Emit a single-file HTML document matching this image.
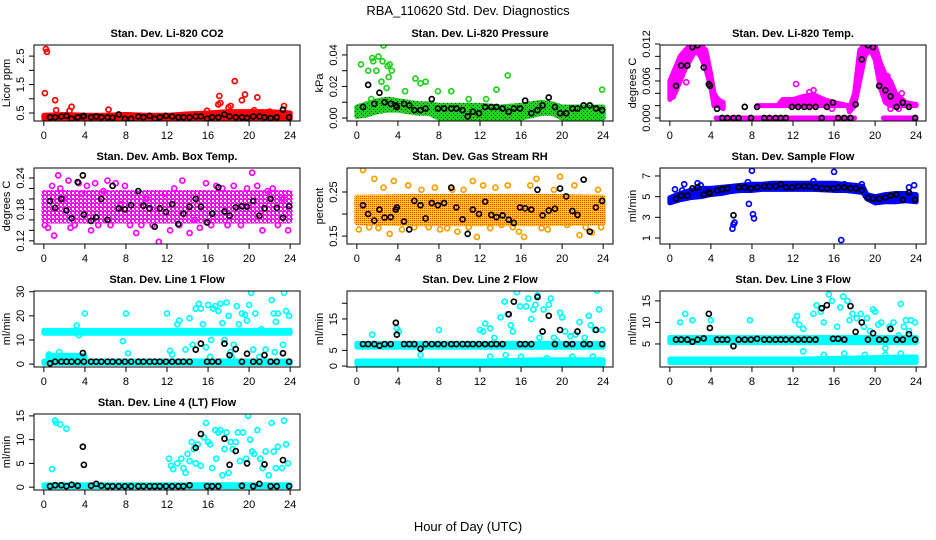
<!DOCTYPE html>
<html><head><meta charset="utf-8">
<style>
html,body{margin:0;padding:0;background:#fff;}
svg{display:block;font-family:"Liberation Sans",Arial,sans-serif;}
</style></head>
<body>
<svg id="chart" width="936" height="540" viewBox="0 0 936 540">
<defs>
<pattern id="pat-green" width="4" height="4" patternUnits="userSpaceOnUse"><rect width="4" height="4" fill="#22d022"/><rect x="1" y="1" width="1" height="1" fill="#000"/><rect x="3" y="3" width="1" height="1" fill="#105010"/></pattern>
<pattern id="pat-magenta" width="4" height="4" patternUnits="userSpaceOnUse"><rect width="4" height="4" fill="#ff00ff"/><rect x="0" y="0" width="2" height="2" fill="#fff"/><rect x="2" y="2" width="1" height="1" fill="#fff"/></pattern>
<pattern id="pat-orange" width="2" height="2" patternUnits="userSpaceOnUse"><rect width="2" height="2" fill="#ffd000"/><rect x="0" y="0" width="1" height="1" fill="#f04000"/></pattern>
</defs>
<text x="468" y="15" text-anchor="middle" font-size="13">RBA_110620  Std. Dev. Diagnostics</text>
<text x="468" y="531" text-anchor="middle" font-size="13">Hour of Day (UTC)</text>
</svg>
<script>
const xTicks=[0,4,8,12,16,20,24];
const blkHours=[0.6,1.1,1.7,2.2,2.7,3.3,3.8,3.9,4.6,5.1,5.6,6.2,6.7,7.3,7.9,8.5,9.2,9.7,10.3,10.8,11.3,11.9,12.5,13.1,13.6,14.2,14.8,15.3,15.9,16.4,17,17.6,18.1,18.7,19.3,19.8,20.4,21,21.5,22.1,22.7,23.3,23.9];

// CO2
const co2BandX=[0,2,4,6,8,10,12,14,16,18,20,22,24];
const co2BandLo=[0.3,0.3,0.3,0.3,0.3,0.3,0.3,0.3,0.3,0.3,0.3,0.3,0.3];
const co2BandHi=[0.42,0.45,0.42,0.42,0.45,0.42,0.42,0.47,0.5,0.55,0.55,0.55,0.5];
const co2PtsX=[0.2,0.3,0.1,1.1,2.7,1.2,2.5,6.3,17.1,17.0,18.6,19.6,19.3,20.8,18.2,18.0,23.4,15.9,20.5,22.0,17.2];
const co2PtsY=[2.75,2.65,1.2,0.95,0.72,0.6,0.58,0.62,1.1,0.8,1.62,1.15,0.95,1.05,0.75,0.7,0.75,0.58,0.6,0.55,0.85];
const co2BlkY=[0.35,0.35,0.38,0.4,0.3,0.35,0.38,0.4,0.35,0.38,0.35,0.35,0.33,0.45,0.3,0.3,0.38,0.35,0.4,0.3,0.35,0.4,0.38,0.35,0.35,0.35,0.38,0.38,0.3,0.35,0.35,0.45,0.38,0.35,0.35,0.33,0.38,0.38,0.35,0.32,0.35,0.62,0.35];

// Pressure
const prBandX=[0,1,2,3,4,5,6,7,8,10,12,14,16,18,19,20,22,24];
const prBandLo=[0.001,0.002,0.004,0.005,0.005,0.004,0.003,0.003,0,0,0,0,0,0.003,0.003,0,0,0];
const prBandHi=[0.007,0.009,0.011,0.012,0.011,0.010,0.009,0.009,0.008,0.008,0.008,0.007,0.008,0.010,0.009,0.007,0.007,0.007];
const prPtsX=[0.4,1.1,1.5,1.6,1.9,2.1,2.4,2.5,2.6,2.9,3.0,3.1,3.2,3.4,4.7,5.7,6.2,6.7,7.9,9.2,13.6,14.7,23.9,1.4,10.9,12.6];
const prPtsY=[0.034,0.03,0.038,0.036,0.03,0.039,0.023,0.036,0.046,0.019,0.033,0.026,0.034,0.03,0.017,0.025,0.022,0.023,0.017,0.017,0.018,0.027,0.018,0.012,0.012,0.012];
const prBlkY=[0.007,0.021,0.009,0.016,0.01,0.009,0.008,0.007,0.009,0.008,0.005,0.005,0.006,0.012,0.006,0.006,0.006,0.006,0.005,0.001,0.004,0.003,0.007,0.007,0.007,0.006,0.004,0.006,0.006,0.011,0.003,0.005,0.008,0.013,0.007,0.003,0.003,0.006,0.006,0.008,0.008,0.006,0.005];

// Li-820 Temp (null splits separate bands)
const tpBandX=[0,0.5,1,1.5,2,2.5,3,3.5,4,4.3,4.7,5.2,null,4.5,18,null,20.8,24,null,8.5,10.5,11,12,13,14,15,16,17.4,null,17.5,18,18.5,19,19.5,20,20.5,21,21.5,22,23,24];
const tpBandLo=[0.003,0.004,0.006,0.008,0.0095,0.011,0.010,0.008,0.005,0.002,0.002,0.0015,null,0,0,null,0,0,null,0.002,0.002,0.002,0.002,0.002,0.002,0.002,0.002,0.002,null,0.001,0.002,0.006,0.010,0.0112,0.0095,0.005,0.0025,0.002,0.002,0.002,0.002];
const tpBandHi=[0.006,0.008,0.010,0.011,0.0118,0.0119,0.0119,0.011,0.007,0.004,0.003,0.0025,null,0,0,null,0,0,null,0.002,0.002,0.003,0.003,0.0035,0.0038,0.003,0.0025,0.002,null,0.0015,0.004,0.011,0.0119,0.0119,0.0118,0.009,0.007,0.006,0.004,0.0025,0.0022];
const tpPtsX=[0.3,1.6,12.3,15.8,17.5,21.5,22.3,13.6,14.0,21.2,22.6];
const tpPtsY=[0.0035,0.0058,0.0055,0.0015,0.0015,0.0015,0.0015,0.0042,0.0045,0.0068,0.004];
const tpBlkY=[0.0052,0.0085,0.0085,0.0115,0.0118,0.0082,0.0055,0.0052,0.0015,0,0,0,0,0.0018,0,0.0018,0,0,0,0,0,0.0018,0.0018,0.0018,0.0018,0.0018,0,0.0018,0.0025,0,0,0,0.0022,0.0095,0.0118,0.0115,0.0052,0.0045,0.0035,0.0018,0.0025,0.0018,0];

// Amb Box Temp
const abBandX=[0,4,8,12,16,20,24];
const abBandLo=[0.158,0.158,0.158,0.158,0.158,0.158,0.158];
const abBandHi=[0.212,0.212,0.212,0.212,0.212,0.212,0.212];
const abPtsX=[0.1,0.4,0.8,1.0,1.4,1.6,1.9,2.4,2.6,3.0,3.4,3.7,4.2,4.6,5.0,5.3,5.8,6.2,6.5,7.0,7.5,7.9,8.4,9.0,9.5,10.0,10.6,11.2,11.8,12.3,12.7,13.2,13.5,14.2,14.7,15.2,15.8,16.3,16.8,17.4,17.9,18.5,19.2,19.8,20.3,20.8,21.3,21.8,22.3,22.8,23.3,23.8];
const abPtsY=[0.15,0.145,0.225,0.13,0.245,0.22,0.2,0.235,0.145,0.15,0.23,0.21,0.225,0.14,0.23,0.15,0.215,0.235,0.15,0.23,0.19,0.225,0.15,0.135,0.15,0.2,0.15,0.118,0.21,0.14,0.22,0.15,0.235,0.135,0.16,0.145,0.23,0.15,0.225,0.22,0.15,0.225,0.15,0.22,0.25,0.225,0.14,0.215,0.22,0.15,0.2,0.14];
const abBlkY=[0.196,0.183,0.2,0.178,0.163,0.232,0.245,0.17,0.158,0.165,0.2,0.16,0.225,0.182,0.18,0.188,0.215,0.187,0.182,0.147,0.182,0.175,0.19,0.152,0.172,0.185,0.2,0.185,0.155,0.172,0.222,0.176,0.168,0.184,0.186,0.185,0.196,0.168,0.182,0.2,0.183,0.164,0.186];

// Gas Stream RH
const rhBandX=[0,6,12,18,24];
const rhBandLo=[0.18,0.178,0.178,0.178,0.18];
const rhBandHi=[0.238,0.24,0.24,0.24,0.238];
const rhPtsX=[0.2,0.6,1.2,1.7,2.1,2.6,3.2,3.6,4.4,5.0,5.6,6.3,7.0,7.6,8.1,8.8,9.3,9.8,10.4,10.9,11.3,11.7,12.3,13.0,13.5,14.1,14.7,15.2,15.8,16.3,16.9,17.5,18.0,18.6,19.2,19.8,20.5,21.2,21.7,22.3,22.9,23.5,23.8];
const rhPtsY=[0.165,0.3,0.17,0.28,0.168,0.26,0.155,0.275,0.165,0.265,0.17,0.255,0.17,0.26,0.165,0.168,0.255,0.16,0.255,0.17,0.275,0.148,0.265,0.168,0.26,0.175,0.265,0.17,0.16,0.148,0.265,0.28,0.168,0.165,0.255,0.285,0.175,0.265,0.152,0.17,0.158,0.255,0.17];
const rhBlkY=[0.22,0.2,0.185,0.21,0.192,0.193,0.21,0.215,0.183,0.165,0.23,0.22,0.19,0.225,0.22,0.225,0.26,0.215,0.188,0.155,0.21,0.2,0.228,0.198,0.193,0.197,0.187,0.18,0.215,0.213,0.21,0.255,0.197,0.208,0.212,0.258,0.24,0.207,0.198,0.278,0.16,0.215,0.23];

// Sample Flow
const sfBandX=[0,1,2,3,4,5,6,7,8,9,10,12,14,16,17,18,18.8,19.2,20,21,22,23,24];
const sfBandLo=[4.4,4.7,4.9,5.0,5.2,5.3,5.5,5.6,5.6,5.7,5.7,5.7,5.7,5.6,5.6,5.5,5.4,4.8,4.4,4.5,4.5,4.6,4.5];
const sfBandHi=[4.9,5.3,5.6,5.8,5.8,5.9,6.0,6.1,6.2,6.2,6.3,6.3,6.3,6.3,6.2,6.1,6.0,5.2,5.0,5.2,5.3,5.3,5.2];
const sfPtsX=[0.5,1.2,1.4,2.7,3.0,6.1,6.2,6.3,7.6,7.7,8.0,8.1,8.2,14.0,16.0,16.7,17.0,18.7,23.3,23.8];
const sfPtsY=[5.7,5.6,6.2,6.3,6.1,1.9,2.3,2.5,6.4,4.3,7.5,3.3,2.9,6.5,7.4,0.8,6.2,6.2,5.9,6.1];
const sfBlkY=[4.8,5.1,5.1,5.8,5.9,5.2,5.4,5.3,5.6,5.7,5.8,3.2,5.9,5.9,5.8,5.9,6.0,6.0,6.0,6.2,5.9,5.9,6.0,6.0,6.0,5.9,5.8,5.8,5.8,5.9,5.9,5.8,5.8,5.6,4.9,4.8,4.8,4.9,5.1,5.2,4.7,5.4,4.7];

// Line 1
const l1BandX=[0,24,null,0,24,null,0.4,4];
const l1BandLo=[12.8,12.8,null,0.3,0.3,null,2.8,2.8];
const l1BandHi=[14.0,14.0,null,1.3,1.3,null,3.6,3.6];
const l1PtsX=[0.5,1.5,3.2,3.4,4.0,7.7,8.0,8.2,12.0,12.3,12.5,13.0,13.2,13.8,14.2,14.5,14.8,15.1,15.3,15.5,15.8,16.0,16.3,16.5,16.7,17.0,17.2,17.4,17.6,17.8,18.0,18.2,18.5,18.8,19.0,19.3,19.6,19.8,20.0,20.2,20.4,20.6,21.2,21.6,22.2,22.4,22.6,22.8,23.3,23.4,23.6,23.9,16.2,18.3,21.0,22.5];
const l1PtsY=[4,5,16,12,21,9.5,21,4.5,21,5.5,4,16.5,18,6,19,8,23,25,23,16.5,7,24.5,10,23,24,22,25,17,10,25.5,20,5,8,24,16.5,21,20.5,18,24.5,29.5,6,21,14.5,6,26.5,21,17.5,21,8,29.5,22,20,3,3,3,5];
const l1BlkY=[0.3,1,1,1,1,1,4.6,1,1,1,1,1,1,1,1,1,1,1,1,1,1,1,1,1,1,1,6,8.5,1,1,1,8.5,3.7,6.2,1,4.3,1,1,3.7,1,1,4.5,1];

// Line 2
const l2BandX=[0,24,null,0,12,18,24];
const l2BandLo=[6.0,6.0,null,0.6,0.6,0.6,0.6];
const l2BandHi=[7.2,7.2,null,1.6,1.6,2.0,2.0];
const l2PtsX=[1.5,3.9,4.1,6.2,8.0,12.0,12.3,12.5,13.0,13.4,14.0,14.4,14.7,15.0,15.2,15.6,15.9,16.5,16.7,17.0,17.2,17.4,17.6,17.8,18.2,18.7,18.9,19.2,19.5,19.8,20.0,20.3,20.8,21.3,21.7,22.2,22.6,22.8,23.2,23.4,23.6,23.9,16.0,18.5,21.0,23.0,13.0,14.5];
const l2PtsY=[10,12,11,3.5,11.5,11.5,11,13.5,12,9,15.5,20.5,16.5,13,11,23.5,19,19,21.5,15,18,19.5,22.5,9,18,19.5,21.5,9,8,17,15.5,11,9.5,10,14,9,16,13,11.5,24,18,11.5,3,2.5,3,3,3,3.5];
const l2BlkY=[7,7,7,6.5,7,7,13.8,10,7,7,7,5.5,7,7,7,7,7,7,7,7,7,7,7,7,7,7,16.5,20.5,7,7,7,22,11,16,7,11.5,7,7,11,7,7,11.5,7];

// Line 3
const l3BandX=[0,24,null,0,13,24];
const l3BandLo=[5.3,5.3,null,0.7,0.7,0.7];
const l3BandHi=[6.5,6.5,null,1.5,1.5,2.0];
const l3PtsX=[1.0,1.5,2.2,4.0,7.8,12.2,12.4,12.6,13.0,14.0,14.3,14.7,15.0,15.5,15.8,16.3,16.6,16.9,17.3,17.5,17.8,18.2,18.6,18.9,19.2,19.5,19.8,20.0,20.3,20.6,21.0,21.4,21.8,22.3,22.5,22.8,23.0,23.3,23.5,23.9,13.0,15.0,17.0,19.0,21.0,22.5];
const l3PtsY=[10,12,10.5,10.5,10.5,10.5,11.5,9.5,8.5,12,14,12.5,10,16.5,15,9,13.5,16,15,10.5,12,11,12,9,11,8,13,12.5,9.5,10,4,9,10,7,14.3,9,10.5,8,10.5,10,3.3,2.5,2.8,2.5,2.5,2.8];
const l3BlkY=[6,6,6,5.5,6,6.3,12,8.7,6,6,6,4.5,6,6,6,6.2,6,6,6,6,6,6,6,6,6,6,13.3,14,6.2,6.2,6,13.8,7.8,10,6,7.5,6,6,8.5,6,6,7.3,6];

// Line 4
const l4BandX=[0,24];
const l4BandLo=[0.1,0.1];
const l4BandHi=[0.5,0.5];
const l4PtsX=[0.8,1.1,1.2,1.6,2.2,12.2,12.4,12.6,13.0,13.4,13.6,13.8,14.0,14.2,14.4,14.6,14.8,15.0,15.3,15.6,15.8,16.0,16.2,16.4,16.7,16.8,17.0,17.2,17.4,17.6,17.8,18.0,18.2,18.4,18.7,18.9,19.1,19.4,19.7,19.9,20.1,20.3,20.5,20.8,21.1,21.3,21.6,21.9,22.2,22.4,22.6,22.8,23.2,23.4,23.6,23.8];
const l4PtsY=[3.8,14,13.5,13.2,12.3,6,4.5,3.8,5,6,4,3,7,5.5,9.5,8,5,9,4.5,10.5,13.5,9.5,9,4,12,6,11.5,12,2.5,8,11.5,3,9.5,8,9.5,11.5,5.5,11.5,6,15,10,7.5,7,12,6,4,7.5,2.5,13.5,7.5,4,8.5,4,14,9,5];
const l4BlkY=[0.2,0.4,0.4,0.2,0.5,0.3,8.5,4.7,0.3,0.7,0.3,0.2,0.2,0.2,0.2,0.2,0.2,0.2,0.2,0.2,0.2,0.2,0.2,0.2,0.2,0.4,8.3,11.2,0.2,0.2,0.2,10.2,4.7,7.6,0.3,5,0.2,0.7,4.8,0.2,0.2,5.7,0.2];

const NS='http://www.w3.org/2000/svg';
const svg=document.getElementById('chart');
const colLeft=[34,347,660], rowTop=[45,168,291,414], PW=266, PH=76;

const panels=[
 {id:'co2',title:'Stan. Dev. Li-820 CO2',ylab:'Licor ppm',c:0,r:0,ymin:0.22,ymax:2.89,ticks:[0.5,1,1.5,2,2.5],labels:[0.5,1.5,2.5],fmt:v=>v.toFixed(1),color:'#ff0000',fill:'#ff0000',bx:co2BandX,blo:co2BandLo,bhi:co2BandHi,px:co2PtsX,py:co2PtsY,by:co2BlkY},
 {id:'pressure',title:'Stan. Dev. Li-820 Pressure',ylab:'kPa',c:1,r:0,ymin:-0.0019,ymax:0.0463,ticks:[0,0.01,0.02,0.03,0.04],labels:[0,0.02,0.04],fmt:v=>v.toFixed(2),color:'#1fd21f',fill:'url(#pat-green)',bx:prBandX,blo:prBandLo,bhi:prBandHi,px:prPtsX,py:prPtsY,by:prBlkY},
 {id:'li820-temp',title:'Stan. Dev. Li-820 Temp.',ylab:'degrees C',c:2,r:0,ymin:-0.00049,ymax:0.01184,ticks:[0,0.002,0.004,0.006,0.008,0.01,0.012],labels:[0,0.006,0.012],fmt:v=>v.toFixed(3),color:'#ff00ff',fill:'#ff00ff',bx:tpBandX,blo:tpBandLo,bhi:tpBandHi,px:tpPtsX,py:tpPtsY,by:tpBlkY},
 {id:'amb-box-temp',title:'Stan. Dev. Amb. Box Temp.',ylab:'degrees C',c:0,r:1,ymin:0.114,ymax:0.259,ticks:[0.12,0.14,0.16,0.18,0.2,0.22,0.24],labels:[0.12,0.18,0.24],fmt:v=>v.toFixed(2),color:'#ff00ff',fill:'url(#pat-magenta)',bx:abBandX,blo:abBandLo,bhi:abBandHi,px:abPtsX,py:abPtsY,by:abBlkY},
 {id:'gas-rh',title:'Stan. Dev. Gas Stream RH',ylab:'percent',c:1,r:1,ymin:0.132,ymax:0.3045,ticks:[0.15,0.2,0.25],labels:[0.15,0.25],fmt:v=>v.toFixed(2),color:'#f5a000',fill:'url(#pat-orange)',bx:rhBandX,blo:rhBandLo,bhi:rhBandHi,px:rhPtsX,py:rhPtsY,by:rhBlkY},
 {id:'sample-flow',title:'Stan. Dev. Sample Flow',ylab:'ml/min',c:2,r:1,ymin:0.42,ymax:7.77,ticks:[1,3,5,7],labels:[1,3,5,7],fmt:v=>String(v),color:'#0000ff',fill:'#0000ff',bx:sfBandX,blo:sfBandLo,bhi:sfBandHi,px:sfPtsX,py:sfPtsY,by:sfBlkY},
 {id:'line1-flow',title:'Stan. Dev. Line 1 Flow',ylab:'ml/min',c:0,r:2,ymin:-1.2,ymax:30.3,ticks:[0,10,20,30],labels:[0,10,20,30],fmt:v=>String(v),color:'#00ffff',fill:'#00ffff',bx:l1BandX,blo:l1BandLo,bhi:l1BandHi,px:l1PtsX,py:l1PtsY,by:l1BlkY},
 {id:'line2-flow',title:'Stan. Dev. Line 2 Flow',ylab:'ml/min',c:1,r:2,ymin:-0.3,ymax:23.9,ticks:[0,5,10,15,20],labels:[0,5,15],fmt:v=>String(v),color:'#00ffff',fill:'#00ffff',bx:l2BandX,blo:l2BandLo,bhi:l2BandHi,px:l2PtsX,py:l2PtsY,by:l2BlkY},
 {id:'line3-flow',title:'Stan. Dev. Line 3 Flow',ylab:'ml/min',c:2,r:2,ymin:-0.35,ymax:17.3,ticks:[5,10,15],labels:[5,10,15],fmt:v=>String(v),color:'#00ffff',fill:'#00ffff',bx:l3BandX,blo:l3BandLo,bhi:l3BandHi,px:l3PtsX,py:l3PtsY,by:l3BlkY},
 {id:'line4-flow',title:'Stan. Dev. Line 4 (LT) Flow',ylab:'ml/min',c:0,r:3,ymin:-0.6,ymax:15.4,ticks:[0,5,10,15],labels:[0,5,10,15],fmt:v=>String(v),color:'#00ffff',fill:'#00ffff',bx:l4BandX,blo:l4BandLo,bhi:l4BandHi,px:l4PtsX,py:l4PtsY,by:l4BlkY}
];

function mk(tag,attrs,parent){const e=document.createElementNS(NS,tag);for(const k in attrs)e.setAttribute(k,attrs[k]);parent.appendChild(e);return e;}

panels.forEach(p=>{
  const L=colLeft[p.c],T=rowTop[p.r],B=T+PH,R=L+PW;
  const xs=h=>L+PW*(h+0.96)/25.92;
  const ys=v=>B-PH*(v-p.ymin)/(p.ymax-p.ymin);
  const g=mk('g',{},svg);
  
  
  const cp=mk('clipPath',{id:'cp-'+p.id},g);
  mk('rect',{x:L,y:T,width:PW,height:PH},cp);
  const t=mk('text',{x:L+PW/2,y:T-8,'text-anchor':'middle','font-size':11,'font-weight':'bold'},g);
  t.textContent=p.title;
  
  
  const yl=mk('text',{x:L-24,y:(T+B)/2,'text-anchor':'middle','font-size':11,transform:`rotate(-90 ${L-24} ${(T+B)/2})`},g);
  yl.textContent=p.ylab;
  
  
  const data=mk('g',{'clip-path':`url(#cp-${p.id})`},g);
  
  
  let seg=[];
  const flush=()=>{ if(seg.length>1){
      const pts=seg.map(i=>xs(p.bx[i])+','+ys(p.bhi[i])).concat(seg.slice().reverse().map(i=>xs(p.bx[i])+','+ys(p.blo[i])));
      const poly=mk('polygon',{points:pts.join(' '),fill:p.fill,stroke:p.fill,'stroke-width':5,'stroke-linejoin':'round'},data);
      
      
    } seg=[]; };
  p.bx.forEach((x,i)=>{ if(x===null) flush(); else seg.push(i); });
  flush();
  p.px.forEach((x,i)=>{
    const c=mk('circle',{cx:xs(x),cy:ys(p.py[i]),r:2.5,fill:'none',stroke:p.color,'stroke-width':1.7},data);
    
    
  });
  blkHours.forEach((x,i)=>{
    const c=mk('circle',{cx:xs(x),cy:ys(p.by[i]),r:2.5,fill:'none',stroke:'#000','stroke-width':1.7},data);
    
    
  });
  const box=mk('rect',{x:L,y:T,width:PW,height:PH,fill:'none',stroke:'#000','stroke-width':1},g);
  
  
  xTicks.forEach(h=>{
    mk('line',{x1:xs(h),x2:xs(h),y1:B,y2:B+5,stroke:'#000'},g);
    const tl=mk('text',{x:xs(h),y:B+18,'text-anchor':'middle','font-size':11},g);
    tl.textContent=h;
    
    
  });
  p.ticks.forEach(v=>{ mk('line',{x1:L-5,x2:L,y1:ys(v),y2:ys(v),stroke:'#000'},g); });
  p.labels.forEach(v=>{
    const yy=ys(v);
    const tl=mk('text',{x:L-10,y:yy,'text-anchor':'middle','font-size':11,transform:`rotate(-90 ${L-10} ${yy})`},g);
    tl.textContent=p.fmt(v);
    
    
  });
});
</script>
</body></html>
